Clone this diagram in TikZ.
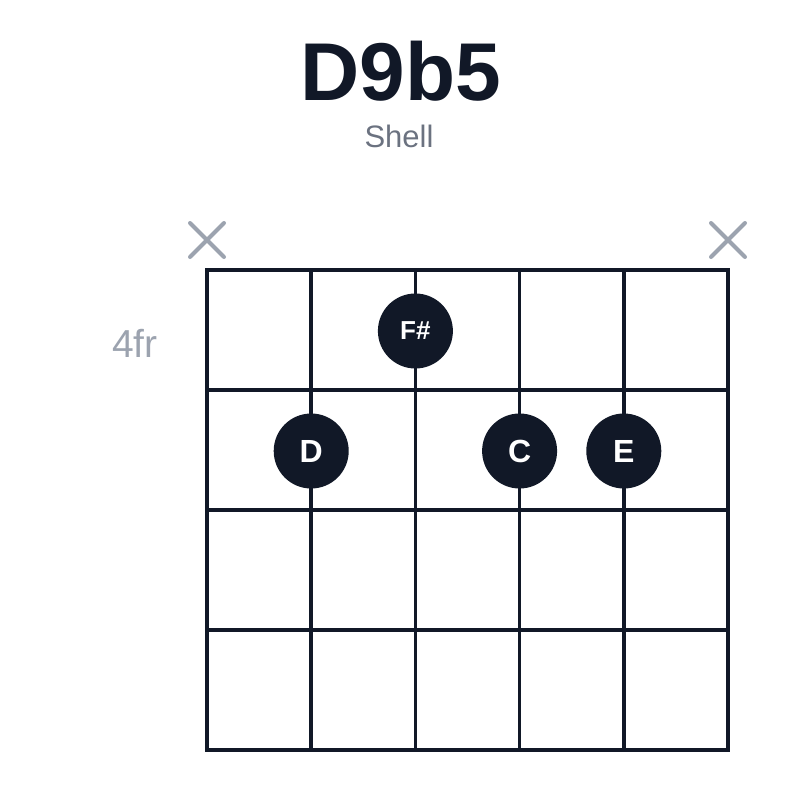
\documentclass[tikz,border=0pt]{standalone}
\usepackage{fontspec}
\setmainfont{Liberation Sans}
\usetikzlibrary{positioning}
\definecolor{tinta}{HTML}{111827}
\definecolor{gristexto}{HTML}{6B7280}
\definecolor{grisclaro}{HTML}{9CA3AF}

\begin{document}
\begin{tikzpicture}[
        x=1pt, y=-1pt,
        cuerda/.style={draw=tinta, line width=3.5pt, line cap=rect},
        nota/.style={circle, fill=tinta, minimum size=75pt, inner sep=0pt, text=white, font=\fontsize{32}{32}\selectfont\bfseries},
        muda/.style={draw=grisclaro, line width=4pt, line cap=round},
        titulo/.style={font=\fontsize{82}{82}\selectfont\bfseries, text=tinta, anchor=base, inner sep=0pt},
        subtitulo/.style={font=\fontsize{31}{31}\selectfont, text=gristexto, anchor=base, inner sep=0pt}
    ]
    \useasboundingbox (0,0) rectangle (800,800);

    % TITULO
    \node[titulo] (acorde) at (401,100) {D9b5};
    \node[subtitulo] (tipo) at (399,147) {Shell};

    % TRASTE INICIAL
    \node[font=\fontsize{39}{39}\selectfont, text=grisclaro, anchor=base east, inner sep=0pt] (traste) at (158,357) {4fr};

    % DIAPASON
    \foreach \x in {207,311.2,415.4,519.6,623.8,728}
        \draw[cuerda] (\x,270) -- (\x,750);
    \foreach \y in {270,390,510,630,750}
        \draw[cuerda] (207,\y) -- (728,\y);

    % CUERDAS MUDAS
    \coordinate (m1) at (207,240);
    \coordinate (m6) at (728,240);
    \draw[muda] ([shift={(-17,-17)}]m1) -- ([shift={(17,17)}]m1);
    \draw[muda] ([shift={(-17,17)}]m1) -- ([shift={(17,-17)}]m1);
    \draw[muda] ([shift={(-17,-17)}]m6) -- ([shift={(17,17)}]m6);
    \draw[muda] ([shift={(-17,17)}]m6) -- ([shift={(17,-17)}]m6);

    % NOTAS
    \node[nota, font=\fontsize{26}{26}\selectfont\bfseries] (fsos) at (415.4,331) {F\#};
    \node[nota] (re) at (311.2,451) {D};
    \node[nota] (do) at (519.6,451) {C};
    \node[nota] (mi) at (623.8,451) {E};
\end{tikzpicture}
\end{document}
